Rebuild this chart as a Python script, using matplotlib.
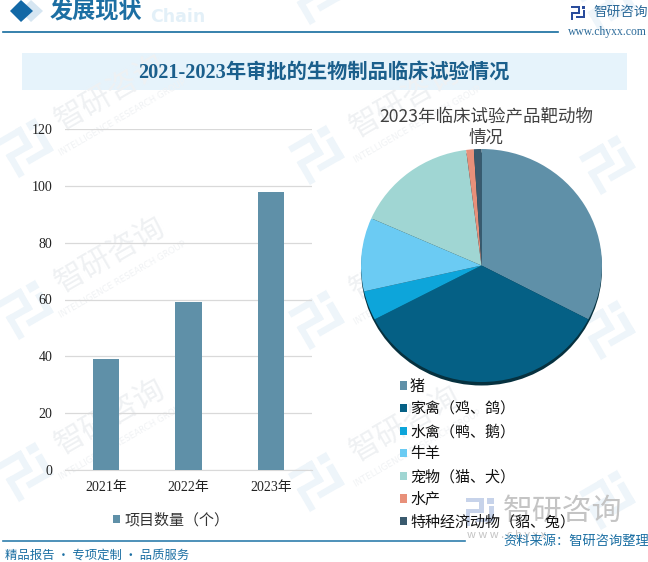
import matplotlib
matplotlib.use("Agg")
import matplotlib.pyplot as plt
from matplotlib.patches import Ellipse, Polygon, Rectangle
from matplotlib.lines import Line2D
import numpy as np

W, H = 648, 562
SANS = ['Noto Sans CJK SC', 'DejaVu Sans']
SERIF = ['Liberation Serif', 'Noto Sans CJK SC']
plt.rcParams['font.family'] = SANS

# 数据
years = ['2021年', '2022年', '2023年']
counts = [39, 59, 98]
bar_label = '项目数量（个）'
y_ticks = [0, 20, 40, 60, 80, 100, 120]

species = ['猪', '家禽（鸡、鸽）', '水禽（鸭、鹅）', '牛羊', '宠物（猫、犬）', '水产', '特种经济动物（貂、兔）']
species_counts = [32, 34, 4, 10, 16, 1, 1]
species_colors = ['#5F90A8', '#056085', '#0DA5DA', '#6BCBF3', '#A0D6D3', '#E8907A', '#3A5A6E']

logo_spots = [(27, 148), (318, 155), (609, 165), (27, 310), (318, 320), (609, 330),
              (27, 472), (318, 482), (609, 500), (318, -5), (609, 5)]
word_spots = [(110, 93), (405, 100), (110, 255), (405, 262), (110, 417), (405, 424)]


def px_axes(fig, x0, y0, x1, y1, **kw):
    # 像素坐标转成 figure 比例，y 从上往下
    return fig.add_axes([x0 / W, 1 - y1 / H, (x1 - x0) / W, (y1 - y0) / H], **kw)


def draw_logo(ax, cx, cy, size, color, angle=-30):
    # 水印和页眉用的简化图标
    pieces = [
        [(-1, -1), (0.25, -1), (0.25, -0.7), (-1, -0.7)],
        [(-0.05, -1), (0.25, -1), (0.25, 0.1), (-0.05, 0.1)],
        [(-1, -0.2), (0.25, -0.2), (0.25, 0.1), (-1, 0.1)],
        [(-1, -0.2), (-0.7, -0.2), (-0.7, 1), (-1, 1)],
        [(0.5, -1), (1, -1), (1, -0.6), (0.5, -0.6)],
        [(0.65, -0.4), (1, -0.4), (1, 0.7), (0.65, 0.7)],
        [(-0.3, 0.4), (1, 0.4), (1, 0.7), (-0.3, 0.7)],
    ]
    t = np.deg2rad(angle)
    rot = np.array([[np.cos(t), -np.sin(t)], [np.sin(t), np.cos(t)]])
    for p in pieces:
        pts = (np.array(p) * size) @ rot.T + [cx, cy]
        ax.add_patch(Polygon(pts, closed=True, fc=color, ec='none'))


fig = plt.figure(figsize=(W / 100, H / 100), dpi=100, facecolor='white')

# 底层：水印、页眉页脚
bg = px_axes(fig, 0, 0, W, H, zorder=0)
bg.set_xlim(0, W)
bg.set_ylim(H, 0)
bg.axis('off')

for x, y in logo_spots:
    draw_logo(bg, x, y, 22, '#EEF5FA')
for x, y in word_spots:
    bg.text(x, y, '智研咨询', fontsize=22, color='#EFF1F3', rotation=30, ha='center', va='center')
    bg.text(x + 13, y + 25, 'INTELLIGENCE RESEARCH GROUP', fontsize=6.2, color='#F0F2F4', rotation=30,
            ha='center', va='center', family='DejaVu Sans')

bg.add_patch(Polygon([(20, 11), (31, 0), (43, 11), (31, 22)], fc='#D6E6F2', ec='none'))
bg.add_patch(Polygon([(10, 11), (21, 0), (33, 11), (21, 22)], fc='#1268A6', ec='none'))
bg.text(50, 12, '发展现状', fontsize=16.7, color='#1D6FA3', fontweight='bold', va='center', family=SERIF)
bg.text(150, 17, 'Chain', fontsize=12.5, color='#E3F0F8', fontweight='bold', va='center', family='DejaVu Sans')
bg.add_line(Line2D([3, 558], [32, 32], color='#146C9E', lw=1.2))
draw_logo(bg, 578, 13, 7, '#2A4C9C', angle=0)
bg.text(593, 12, '智研咨询', fontsize=9.8, color='#2B6A99', va='center')
bg.text(568, 32, 'www.chyxx.com', fontsize=8.4, color='#2B6A99', va='center', family='Liberation Serif')

bg.add_patch(Rectangle((22, 53), 605, 37, fc='#E6F3FB', ec='none'))
bg.text(324, 73, '2021-2023年审批的生物制品临床试验情况', fontsize=14.6, color='#1B5F8C',
        fontweight='bold', ha='center', va='center', family=SERIF)

# 右下角大水印
draw_logo(bg, 480, 512, 14, '#C7D3EA', angle=0)
bg.text(503, 511, '智研咨询', fontsize=21.5, color='#C4C4C4', va='center')
bg.text(467, 535, 'w w w . c h y x x', fontsize=8, color='#C4C4C4', va='center')

bg.add_line(Line2D([3, 465], [541, 541], color='#2F7EAD', lw=1.2))
bg.text(5, 555, '精品报告 · 专项定制 · 品质服务', fontsize=8.9, color='#1B6FA3', va='center')
bg.text(503, 541, '资料来源：智研咨询整理', fontsize=9.5, color='#1B6FA3', va='center')

# 左边柱状图
ax = px_axes(fig, 65, 129, 312, 470, zorder=2)
ax.patch.set_alpha(0)
ax.bar(range(len(years)), counts, width=0.32, color='#5F90A8', label=bar_label, zorder=3)
ax.set_xlim(-0.5, 2.5)
ax.set_ylim(0, 120)
ax.set_xticks(range(len(years)), years, family=SERIF)
ax.set_yticks(y_ticks, [str(v) for v in y_ticks], family=SERIF)
ax.tick_params(length=0, labelsize=10, labelcolor='#222222')
ax.tick_params(axis='x', pad=8)
ax.tick_params(axis='y', pad=9)
ax.grid(axis='y', color='#D9D9D9', lw=0.9, zorder=0)
for s in ['top', 'left', 'right']:
    ax.spines[s].set_visible(False)
ax.spines['bottom'].set_color('#D9D9D9')
fig.legend(*ax.get_legend_handles_labels(), loc='center', bbox_to_anchor=(171 / W, 1 - 520 / H),
           frameon=False, fontsize=10.8, handlelength=0.5, handleheight=0.5, handletextpad=0.3,
           labelcolor='#333333')

# 右边饼图
ax2 = px_axes(fig, 361, 149, 602, 382, zorder=2)
ax2.patch.set_alpha(0)
ax2.add_patch(Ellipse((0, -0.03), 2, 2, fc='#06313F', ec='none', clip_on=False))
wedges, _ = ax2.pie(species_counts, colors=species_colors, startangle=90, counterclock=False,
                    radius=1, frame=False)
ax2.set_aspect('auto')
ax2.set_xlim(-1, 1)
ax2.set_ylim(-1, 1)
fig.text(486 / W, 1 - 127 / H, '2023年临床试验产品靶动物\n情况', fontsize=12.6, color='#404040',
         ha='center', va='center', linespacing=1.2)
fig.legend(wedges, species, loc='upper left', bbox_to_anchor=(389 / W, 1 - 369 / H), frameon=False,
           fontsize=10.8, handlelength=0.5, handleheight=0.5, handletextpad=0.2, labelspacing=0.55,
           labelcolor='#111111', borderpad=0.2)

fig.savefig('out.png', dpi=100)
